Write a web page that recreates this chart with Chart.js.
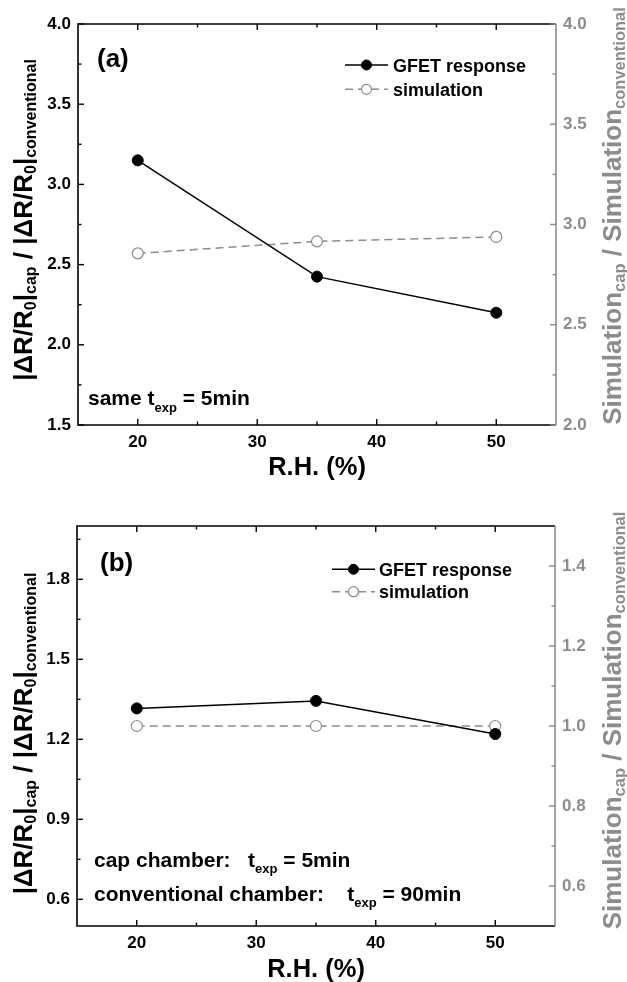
<!DOCTYPE html>
<html>
<head>
<meta charset="utf-8">
<script src="https://cdn.jsdelivr.net/npm/chart.js@4.4.1/dist/chart.umd.min.js"></script>
<style>
  html, body { margin: 0; padding: 0; background: #fff; }
  #wrap { position: relative; width: 627px; height: 982px; }
  canvas { position: absolute; left: 0; }
</style>
</head>
<body>
<div id="wrap">
  <canvas id="chartA" width="627" height="491" style="top:0px"></canvas>
  <canvas id="chartB" width="627" height="491" style="top:491px"></canvas>
</div>

<script>
  // data
  const rh = [20, 35, 50];
  const gfetA = [3.15, 2.425, 2.20];
  const simA = [2.856, 2.916, 2.938];
  const gfetB = [1.316, 1.344, 1.22];
  const simB = [1.0, 1.0, 1.0];

  // tick positions (major = labelled)
  const xMajor = [20, 30, 40, 50];
  const xMinor = [25, 35, 45];
  const yMajorA = [1.5, 2.0, 2.5, 3.0, 3.5, 4.0];
  const yMinorA = [1.75, 2.25, 2.75, 3.25, 3.75];
  const y1MajorA = [2.0, 2.5, 3.0, 3.5, 4.0];
  const y1MinorA = [2.25, 2.75, 3.25, 3.75];
  const yMajorB = [0.6, 0.9, 1.2, 1.5, 1.8];
  const yMinorB = [0.75, 1.05, 1.35, 1.65, 1.95];
  const y1MajorB = [0.6, 0.8, 1.0, 1.2, 1.4];
  const y1MinorB = [0.7, 0.9, 1.1, 1.3];

  const BLACK = '#000000';
  const GRAY = '#8c8c8c';
  const FONT = "'Liberation Sans', Arial, sans-serif";

  function isMajor(list, v) {
    return list.some(m => Math.abs(m - v) < 1e-6);
  }

  function tickSetup(major, minor, fmt) {
    return {
      afterBuildTicks: s => {
        s.ticks = major.concat(minor).sort((a, b) => a - b).map(v => ({ value: v }));
      },
      cb: v => isMajor(major, v) ? fmt(v) : ''
    };
  }

  // draws text made of normal and subscript pieces
  function drawRich(ctx, parts, x, y, o) {
    const fontOf = sub => 'bold ' + (sub ? o.sub : o.size) + 'px ' + FONT;
    let w = 0;
    parts.forEach(([t, sub]) => { ctx.font = fontOf(sub); w += ctx.measureText(t).width; });
    let cx = o.align === 'center' ? x - w / 2 : x;
    ctx.fillStyle = o.color;
    ctx.textAlign = 'left';
    ctx.textBaseline = 'alphabetic';
    parts.forEach(([t, sub]) => {
      ctx.font = fontOf(sub);
      ctx.fillText(t, cx, y + (sub ? o.dy : 0));
      cx += ctx.measureText(t).width;
    });
  }

  const decorPlugin = {
    id: 'decor',
    afterDraw(chart, args, d) {
      const ctx = chart.ctx;
      const a = chart.chartArea;
      ctx.save();

      // frame
      ctx.lineWidth = 1.6;
      ctx.strokeStyle = BLACK;
      ctx.beginPath();
      ctx.moveTo(a.right, a.top); ctx.lineTo(a.left, a.top);
      ctx.lineTo(a.left, a.bottom); ctx.lineTo(a.right, a.bottom);
      ctx.stroke();
      ctx.strokeStyle = GRAY;
      ctx.beginPath();
      ctx.moveTo(a.right, a.top); ctx.lineTo(a.right, a.bottom);
      ctx.stroke();

      // inward tick marks
      ctx.lineWidth = 1.4;
      const xs = chart.scales.x;
      ctx.strokeStyle = BLACK;
      xs.ticks.forEach(t => {
        const p = xs.getPixelForValue(t.value);
        const len = isMajor(xMajor, t.value) ? 6 : 3.5;
        ctx.beginPath();
        ctx.moveTo(p, a.bottom); ctx.lineTo(p, a.bottom - len);
        ctx.moveTo(p, a.top); ctx.lineTo(p, a.top + len);
        ctx.stroke();
      });
      [['y', a.left, 1, BLACK, d.yMajor], ['y1', a.right, -1, GRAY, d.y1Major]].forEach(([id, x0, dir, col, major]) => {
        const s = chart.scales[id];
        ctx.strokeStyle = col;
        s.ticks.forEach(t => {
          const p = s.getPixelForValue(t.value);
          const len = isMajor(major, t.value) ? 6 : 3.5;
          ctx.beginPath();
          ctx.moveTo(x0, p); ctx.lineTo(x0 + dir * len, p);
          ctx.stroke();
        });
      });

      // panel tag
      ctx.fillStyle = BLACK;
      ctx.font = 'bold 26px ' + FONT;
      ctx.textAlign = 'left';
      ctx.textBaseline = 'alphabetic';
      ctx.fillText(d.tag, d.tagX, d.tagY);

      // legend
      chart.data.datasets.forEach((ds, i) => {
        const y = d.legend.rows[i];
        ctx.strokeStyle = ds.borderColor;
        ctx.lineWidth = ds.borderWidth;
        ctx.setLineDash(ds.borderDash || []);
        ctx.beginPath();
        ctx.moveTo(d.legend.x0, y); ctx.lineTo(d.legend.x1, y);
        ctx.stroke();
        ctx.setLineDash([]);
        ctx.beginPath();
        ctx.arc((d.legend.x0 + d.legend.x1) / 2, y, ds.pointRadius - 0.5, 0, Math.PI * 2);
        ctx.fillStyle = ds.pointBackgroundColor;
        ctx.fill();
        ctx.lineWidth = ds.pointBorderWidth;
        ctx.strokeStyle = ds.pointBorderColor;
        ctx.stroke();
        ctx.fillStyle = BLACK;
        ctx.font = 'bold 18px ' + FONT;
        ctx.fillText(ds.label, d.legend.tx, y + 6.5);
      });

      // notes inside the plot
      d.notes.forEach(n => {
        drawRich(ctx, n.parts, n.x, n.y, { size: 21, sub: 13, dy: 6.5, color: BLACK });
      });

      // x title
      ctx.fillStyle = BLACK;
      ctx.font = 'bold 25.5px ' + FONT;
      ctx.textAlign = 'center';
      ctx.fillText('R.H. (%)', (a.left + a.right) / 2, d.xTitleY);

      // left title
      ctx.save();
      ctx.translate(31.7, d.leftTitleY);
      ctx.rotate(-Math.PI / 2);
      drawRich(ctx, [['|\u0394R/R', 0], ['0', 1], ['|', 0], ['cap', 1], [' / |\u0394R/R', 0], ['0', 1], ['|', 0], ['conventional', 1]],
        0, 0, { size: 26, sub: 16, dy: 4, color: BLACK, align: 'center' });
      ctx.restore();

      // right title
      ctx.save();
      ctx.translate(621, d.rightTitleY);
      ctx.rotate(-Math.PI / 2);
      drawRich(ctx, [['Simulation', 0], ['cap', 1], [' / Simulation', 0], ['conventional', 1]],
        0, 0, { size: 26, sub: 16.5, dy: 4, color: GRAY, align: 'center' });
      ctx.restore();

      ctx.restore();
    }
  };

  function makePanel(id, p) {
    const xt = tickSetup(xMajor, xMinor, v => String(v));
    const yt = tickSetup(p.yMajor, p.yMinor, v => v.toFixed(1));
    const y1t = tickSetup(p.y1Major, p.y1Minor, v => v.toFixed(1));
    const tickFont = { family: FONT, size: 17, weight: 'bold' };

    return new Chart(document.getElementById(id), {
      type: 'line',
      data: {
        datasets: [
          {
            label: 'GFET response',
            data: rh.map((x, i) => ({ x: x, y: p.gfet[i] })),
            yAxisID: 'y',
            borderColor: BLACK,
            borderWidth: 1.5,
            pointRadius: 5.5,
            pointBackgroundColor: BLACK,
            pointBorderColor: BLACK,
            pointBorderWidth: 1,
            tension: 0
          },
          {
            label: 'simulation',
            data: rh.map((x, i) => ({ x: x, y: p.sim[i] })),
            yAxisID: 'y1',
            borderColor: GRAY,
            borderWidth: 1.5,
            borderDash: [8, 5],
            pointRadius: 5.5,
            pointBackgroundColor: '#ffffff',
            pointBorderColor: GRAY,
            pointBorderWidth: 1.2,
            tension: 0
          }
        ]
      },
      options: {
        responsive: false,
        animation: false,
        devicePixelRatio: 1,
        layout: { padding: { top: p.top, left: 0, right: 0, bottom: 0 } },
        plugins: {
          legend: { display: false },
          tooltip: { enabled: false },
          decor: p.decor
        },
        scales: {
          x: {
            type: 'linear',
            min: 15,
            max: 55,
            afterBuildTicks: xt.afterBuildTicks,
            afterFit: s => { s.height = p.xHeight; },
            grid: { display: false, drawTicks: false },
            border: { display: false },
            ticks: { callback: xt.cb, color: BLACK, font: tickFont, padding: 7, maxRotation: 0, autoSkip: false }
          },
          y: {
            position: 'left',
            min: p.yMin,
            max: p.yMax,
            afterBuildTicks: yt.afterBuildTicks,
            afterFit: s => { s.width = p.left; },
            grid: { display: false, drawTicks: false },
            border: { display: false },
            ticks: { callback: yt.cb, color: BLACK, font: tickFont, padding: 7, autoSkip: false }
          },
          y1: {
            position: 'right',
            min: p.y1Min,
            max: p.y1Max,
            afterBuildTicks: y1t.afterBuildTicks,
            afterFit: s => { s.width = 627 - p.right; },
            grid: { display: false, drawTicks: false },
            border: { display: false },
            ticks: { callback: y1t.cb, color: GRAY, font: tickFont, padding: 7, autoSkip: false }
          }
        }
      },
      plugins: [decorPlugin]
    });
  }

  makePanel('chartA', {
    gfet: gfetA, sim: simA,
    yMin: 1.5, yMax: 4.0, y1Min: 2.0, y1Max: 4.0,
    yMajor: yMajorA, yMinor: yMinorA, y1Major: y1MajorA, y1Minor: y1MinorA,
    top: 24, left: 78, right: 556, xHeight: 66,
    decor: {
      tag: '(a)', tagX: 97, tagY: 67,
      yMajor: yMajorA, y1Major: y1MajorA,
      legend: { rows: [65, 89.3], x0: 345, x1: 388, tx: 393 },
      notes: [
        { x: 88, y: 405, parts: [['same t', 0], ['exp', 1], [' = 5min', 0]] }
      ],
      xTitleY: 475, leftTitleY: 220, rightTitleY: 216
    }
  });

  makePanel('chartB', {
    gfet: gfetB, sim: simB,
    yMin: 0.5, yMax: 2.0, y1Min: 0.5, y1Max: 1.5,
    yMajor: yMajorB, yMinor: yMinorB, y1Major: y1MajorB, y1Minor: y1MinorB,
    top: 35, left: 77, right: 555, xHeight: 56,
    decor: {
      tag: '(b)', tagX: 100, tagY: 79.5,
      yMajor: yMajorB, y1Major: y1MajorB,
      legend: { rows: [78.3, 100.7], x0: 332, x1: 375, tx: 379 },
      notes: [
        { x: 94, y: 375.7, parts: [['cap chamber:   t', 0], ['exp', 1], [' = 5min', 0]] },
        { x: 94, y: 409.7, parts: [['conventional chamber:    t', 0], ['exp', 1], [' = 90min', 0]] }
      ],
      xTitleY: 486, leftTitleY: 242.5, rightTitleY: 229.5
    }
  });
</script>
</body>
</html>
